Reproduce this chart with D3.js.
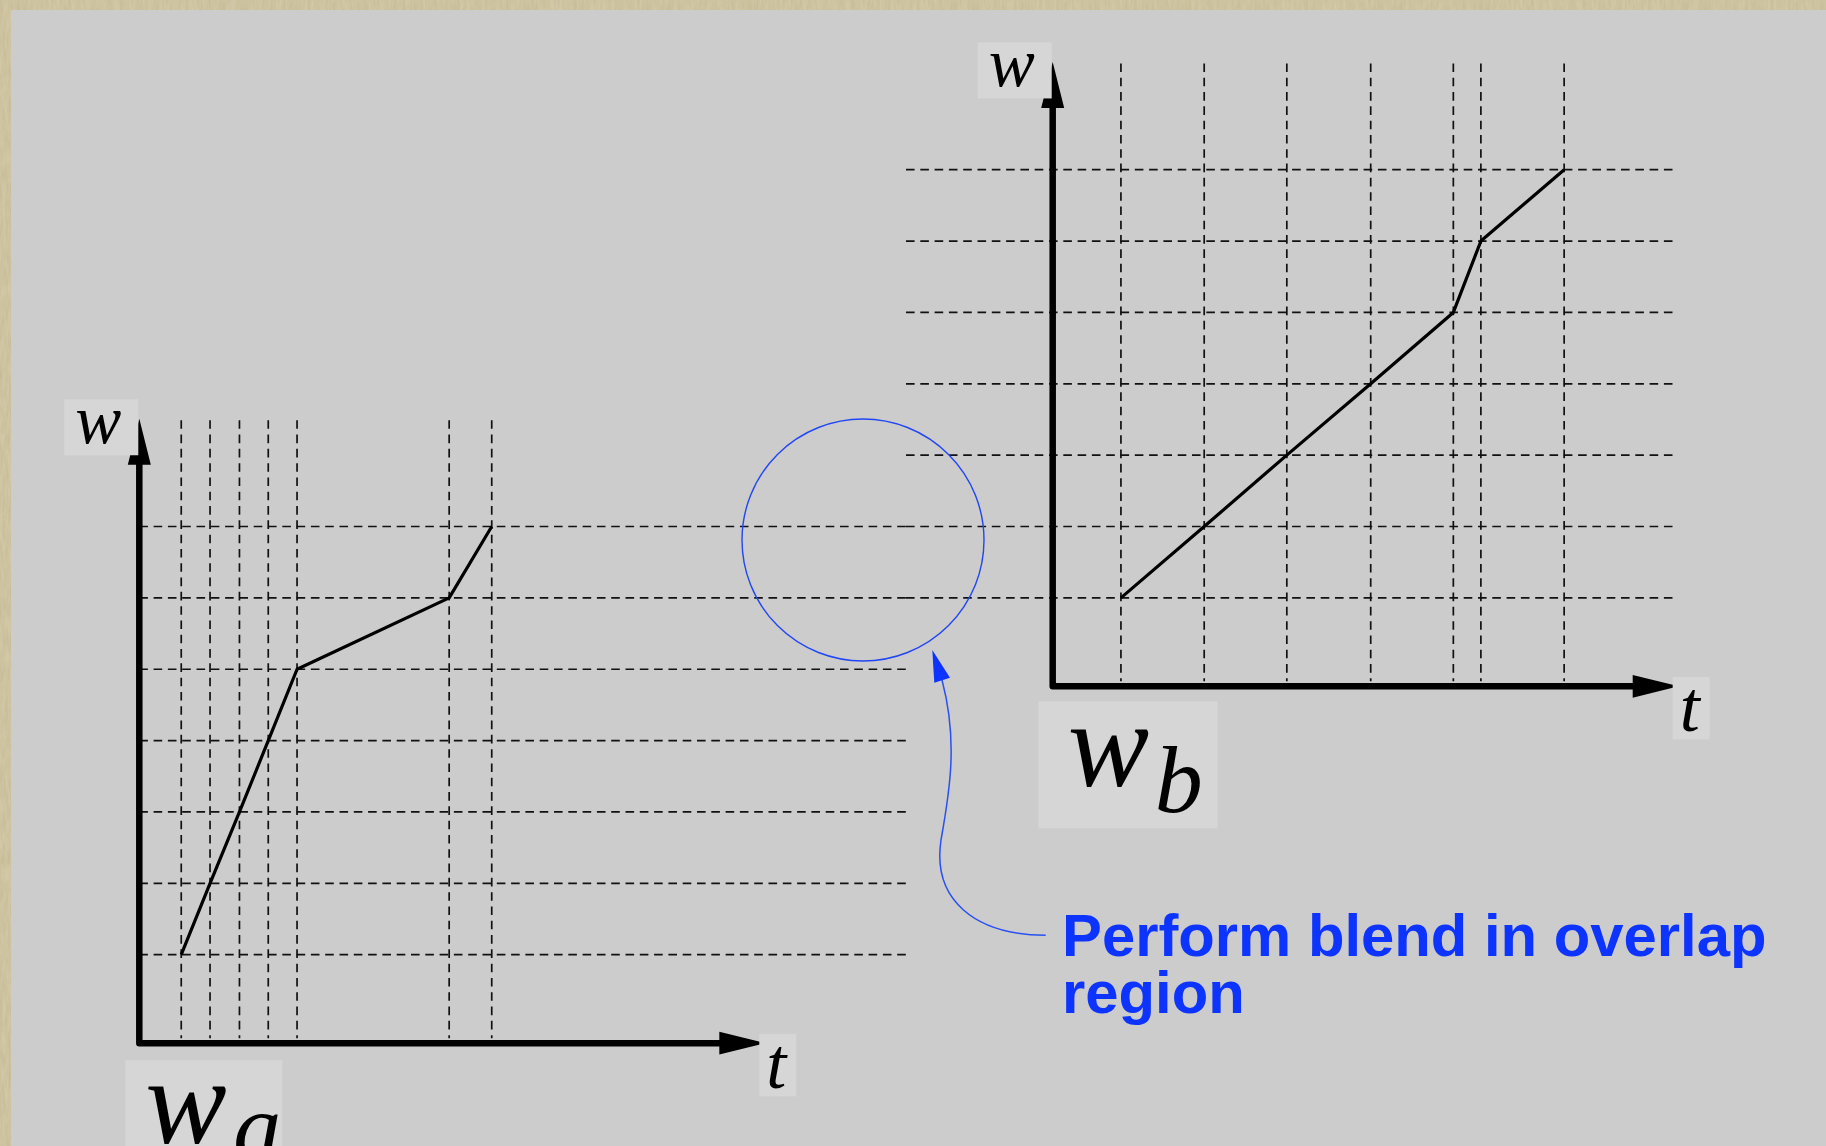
<!DOCTYPE html>
<html>
<head>
<meta charset="utf-8">
<script src="https://cdn.jsdelivr.net/npm/d3@7"></script>
<style>
  html, body { margin: 0; padding: 0; background: #cccccc; }
  svg { display: block; }
</style>
</head>
<body>
<svg id="chart" width="1826" height="1146"></svg>
<script>
// Keyframe times (t) and warped values (w) for the two warp curves
const tA = [0.67, 1.13, 1.60, 2.06, 2.52, 4.95, 5.63];
const wA = [0, 1, 2, 3, 4, 5, 6];
const tB = [1.09, 2.42, 3.74, 5.08, 6.40, 6.84, 8.17];
const wB = [5, 6, 7, 8, 9, 10, 11];

// Axis and panel labels
const axisLabelW = "w";
const axisLabelT = "t";
const panelNames = ["a", "b"];
const noteLines = ["Perform blend in overlap", "region"];

const W = 1826, H = 1146;
const svg = d3.select("#chart");

// --- page background: textured frame and flat grey panel ---
const defs = svg.append("defs");
const grain = defs.append("filter").attr("id", "grain").attr("x", 0).attr("y", 0).attr("width", 1).attr("height", 1);
grain.append("feTurbulence").attr("type", "fractalNoise").attr("baseFrequency", "0.35 0.06").attr("numOctaves", 3).attr("seed", 4);
grain.append("feColorMatrix").attr("type", "matrix")
  .attr("values", "0 0 0 0 0.78  0 0 0 0 0.73  0 0 0 0 0.56  0 0 0 0.55 0");
svg.append("rect").attr("width", W).attr("height", H).attr("fill", "#c6ba94");
svg.append("rect").attr("width", W).attr("height", H).attr("filter", "url(#grain)").attr("opacity", 0.9);
svg.append("rect").attr("x", 11).attr("y", 10).attr("width", W - 11).attr("height", H - 10).attr("fill", "#cccccc");

// Shared w scale: both panels use the same vertical units, offset by 5
const wScale = d3.scaleLinear().domain([0, 11]).range([954.7, 169.7]);

const panels = [
  { t: tA, w: wA, name: panelNames[0], x0: 139.3, wBase: -1.24, gridX: [139.3, 909],
    titleBox: [-14, 17, 157, 140], titleDx: 6, subDx: 91, subDy: 116 },
  { t: tB, w: wB, name: panelNames[1], x0: 1052.7, wBase: 3.76, gridX: [906, 1676],
    titleBox: [-14.2, 15, 179, 127], titleDx: 15, subDx: 99, subDy: 125.5 }
];

const dash = "8.6 5.7";
const serif = "'Liberation Serif', 'Times New Roman', serif";

panels.forEach(p => {
  const tScale = d3.scaleLinear().domain([0, 10]).range([p.x0, p.x0 + 626]);
  const yBase = wScale(p.wBase);
  const yTip = wScale(p.wBase + 8.75);
  const xTip = tScale(10);
  const g = svg.append("g");

  // dashed horizontal grid at each w key
  g.selectAll("line.h").data(p.w).join("line")
    .attr("x1", p.gridX[0]).attr("x2", p.gridX[1])
    .attr("y1", d => wScale(d)).attr("y2", d => wScale(d))
    .attr("stroke", "#111").attr("stroke-width", 1.7).attr("stroke-dasharray", dash);

  // dashed vertical grid at each keyframe time
  g.selectAll("line.v").data(p.t).join("line")
    .attr("x1", d => tScale(d)).attr("x2", d => tScale(d))
    .attr("y1", yTip + 1.5).attr("y2", yBase - 5)
    .attr("stroke", "#111").attr("stroke-width", 1.7).attr("stroke-dasharray", dash);

  // warp curve
  const line = d3.line().x(d => tScale(d[0])).y(d => wScale(d[1]));
  g.append("path").datum(d3.zip(p.t, p.w))
    .attr("d", line).attr("fill", "none").attr("stroke", "#000")
    .attr("stroke-width", 3.2).attr("stroke-linejoin", "round");

  // axes with arrow heads
  g.append("path")
    .attr("d", `M${p.x0},${yTip + 40}L${p.x0},${yBase}L${xTip - 40},${yBase}`)
    .attr("fill", "none").attr("stroke", "#000").attr("stroke-width", 6.5)
    .attr("stroke-linejoin", "round");
  g.append("path")
    .attr("d", `M${p.x0},${yTip}L${p.x0 - 11.5},${yTip + 46}L${p.x0 + 11.5},${yTip + 46}Z`)
    .attr("fill", "#000");
  g.append("path")
    .attr("d", `M${xTip},${yBase}L${xTip - 46},${yBase - 11.4}L${xTip - 46},${yBase + 11.4}Z`)
    .attr("fill", "#000");

  // axis labels on light boxes
  g.append("rect").attr("x", p.x0 - 75).attr("y", yTip - 19.5).attr("width", 74).attr("height", 56)
    .attr("fill", "#d6d6d6");
  g.append("text").attr("x", p.x0 - 64).attr("y", yTip + 24)
    .attr("font-family", serif).attr("font-style", "italic").attr("font-size", 69)
    .attr("fill", "#000").text(axisLabelW);

  g.append("rect").attr("x", xTip - 6).attr("y", yBase - 9.4).attr("width", 37).attr("height", 62.5)
    .attr("fill", "#d6d6d6");
  g.append("text").attr("x", xTip + 1).attr("y", yBase + 45)
    .attr("font-family", serif).attr("font-style", "italic").attr("font-size", 72)
    .attr("fill", "#000").text(axisLabelT);

  // panel title w_a / w_b
  const tb = p.titleBox;
  g.append("rect").attr("x", p.x0 + tb[0]).attr("y", yBase + tb[1]).attr("width", tb[2]).attr("height", tb[3])
    .attr("fill", "#d6d6d6");
  g.append("text").attr("x", p.x0 + p.titleDx).attr("y", yBase + 100)
    .attr("font-family", serif).attr("font-style", "italic").attr("font-size", 122)
    .attr("fill", "#000").text(axisLabelW);
  g.append("text").attr("x", p.x0 + p.subDx + 3).attr("y", yBase + p.subDy)
    .attr("font-family", serif).attr("font-style", "italic").attr("font-size", 96)
    .attr("fill", "#000").text(p.name);
});

// --- overlap annotation: circle, curved pointer and note ---
const blue = "#0d33ff";
const ann = svg.append("g");
ann.append("circle").attr("cx", 863).attr("cy", 540).attr("r", 121)
  .attr("fill", "none").attr("stroke", "#2146f5").attr("stroke-width", 1.4);
ann.append("path")
  .attr("d", "M942,680C958,740 950,790 941,840C932,900 975,935 1045.7,935.3")
  .attr("fill", "none").attr("stroke", "#2850f2").attr("stroke-width", 1.5);
ann.append("path")
  .attr("d", "M932.3,650L934.3,682.7L950,677.7Z").attr("fill", blue);

const note = ann.append("text")
  .attr("font-family", "'Liberation Sans', Arial, Helvetica, sans-serif")
  .attr("font-weight", "bold").attr("font-size", 59.8).attr("fill", blue);
note.selectAll("tspan").data(noteLines).join("tspan")
  .attr("x", 1062).attr("y", (d, i) => 956 + i * 57).text(d => d);
</script>
</body>
</html>
